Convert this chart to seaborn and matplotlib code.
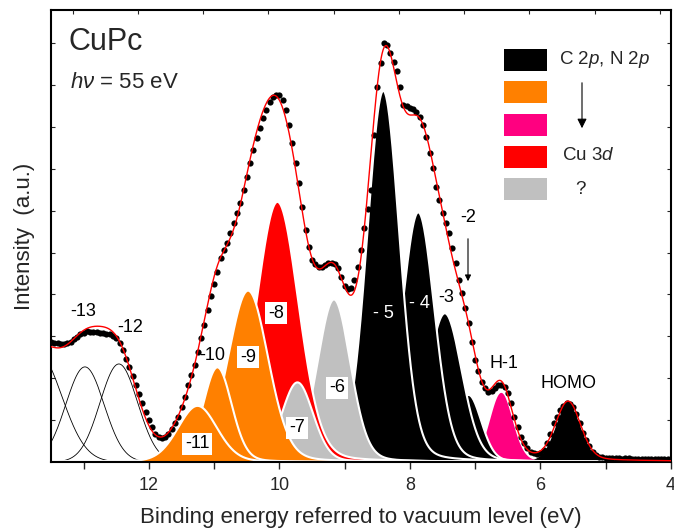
import numpy as np
import pandas as pd
import matplotlib
matplotlib.use("Agg")
import matplotlib.pyplot as plt
import seaborn as sns
from matplotlib.patches import Rectangle

sns.set_theme(style="ticks")
plt.rcParams['font.family'] = ['Liberation Sans', 'DejaVu Sans']
plt.rcParams['mathtext.fontset'] = 'custom'
plt.rcParams['mathtext.rm'] = 'Liberation Sans'
plt.rcParams['mathtext.it'] = 'Liberation Sans:italic'

energy_start, energy_stop = 13.5, 4.0
intensity = [2.87, 2.85, 2.83, 2.82, 2.82, 2.83, 2.87, 2.93, 2.99, 3.05,
             3.09, 3.13, 3.11, 3.11, 3.10, 3.09, 3.07, 3.05, 3.05, 3.01,
             2.95, 2.85, 2.67, 2.47, 2.27, 2.05, 1.84, 1.62, 1.40, 1.20,
             1.00, 0.83, 0.68, 0.60, 0.57, 0.60, 0.68, 0.78, 0.92, 1.08,
             1.32, 1.56, 1.84, 2.08, 2.32, 2.63, 2.95, 3.27, 3.63, 3.95,
             4.26, 4.54, 4.86, 5.06, 5.22, 5.46, 5.70, 5.94, 6.17, 6.49,
             6.81, 7.13, 7.45, 7.73, 7.96, 8.20, 8.40, 8.60, 8.72, 8.76,
             8.77, 8.64, 8.40, 8.04, 7.61, 7.13, 6.65, 6.09, 5.54, 5.14,
             4.82, 4.72, 4.66, 4.66, 4.70, 4.74, 4.75, 4.72, 4.62, 4.42,
             4.20, 4.12, 4.15, 4.35, 4.66, 5.06, 5.58, 6.05, 6.49, 7.80,
             8.95, 9.52, 9.99, 9.95, 9.75, 9.55, 9.32, 8.96, 8.52, 8.50,
             8.44, 8.42, 8.36, 8.24, 8.04, 7.76, 7.37, 7.01, 6.57, 6.25,
             5.94, 5.70, 5.46, 5.10, 4.74, 4.34, 4.03, 3.67, 3.31, 2.87,
             2.43, 2.16, 1.92, 1.76, 1.68, 1.70, 1.76, 1.84, 1.84, 1.78,
             1.64, 1.40, 1.08, 0.84, 0.60, 0.45, 0.33, 0.25, 0.21, 0.19,
             0.21, 0.29, 0.45, 0.68, 0.92, 1.08, 1.24, 1.34, 1.40, 1.38,
             1.32, 1.15, 0.92, 0.70, 0.53, 0.37, 0.25, 0.17, 0.13, 0.11,
             0.10, 0.10, 0.09, 0.10, 0.09, 0.08, 0.09, 0.09, 0.08, 0.07,
             0.08, 0.08, 0.08, 0.07, 0.07, 0.08, 0.07, 0.06, 0.06, 0.07,
             0.06]
energy = np.linspace(energy_start, energy_stop, len(intensity))

# ---------------- fitted components (pseudo-Voigt; thin outlined ones pure Gaussian) ----------------
comp_label  = ["HOMO", "H-1", "-2", "-3", "-4", "-5", "-6", "-8", "-7", "-9", "-10", "-11", "-12", "-13", "-14"]
comp_center = [5.576, 6.60, 7.10, 7.465, 7.872, 8.408, 9.164, 10.03, 9.724, 10.48, 10.95, 11.255, 12.46, 12.98, 13.70]
comp_height = [1.38, 1.65, 1.60, 3.55, 5.96, 8.86, 3.88, 6.21, 1.90, 4.09, 2.26, 1.34, 2.34, 2.27, 2.60]
comp_fwhm   = [0.45, 0.41, 0.46, 0.62, 0.59, 0.59, 0.60, 0.77, 0.57, 0.73, 0.52, 0.71, 0.68, 0.69, 0.86]
comp_eta    = [0.147] * 12 + [0.0] * 3
comp_group  = ["C", "mix2", "C", "C", "C", "C", "unk", "Cu", "unk", "mix1", "mix1", "mix1", "none", "none", "none"]

group_color = {"C": "#000000", "mix1": "#FF8000", "mix2": "#FF0080",
               "Cu": "#FF0000", "unk": "#C0C0C0", "none": None}
white_edge = {"C": True, "mix1": True, "mix2": False, "Cu": True, "unk": True, "none": False}

legend_groups = ["C", "mix1", "mix2", "Cu", "unk"]
legend_text = ["C 2$\\it{p}$, N 2$\\it{p}$", "", "", "Cu 3$\\it{d}$", "?"]


def pvoigt(x, c, h, w, eta):
    t = ((x - c) / w) ** 2
    return h * ((1 - eta) * np.exp(-4 * np.log(2) * t) + eta / (1 + 4 * t))


fig = plt.figure(figsize=(6.74, 5.31), dpi=100)
ax = fig.add_axes([51 / 674, 69 / 531, 620 / 674, 452 / 531])

grid = np.linspace(3.9, 13.6, 2000)
total = np.zeros_like(grid)
for i in range(len(comp_label)):
    y = pvoigt(grid, comp_center[i], comp_height[i], comp_fwhm[i], comp_eta[i])
    total += y
    g = comp_group[i]
    col = group_color[g]
    if col is None:
        ax.plot(grid, y, color="black", lw=0.6, zorder=2)
    else:
        ax.fill_between(grid, 0, y, facecolor=col, edgecolor="none", lw=0, zorder=2 + i * 0.01)
        if white_edge[g] and i != 0:
            ax.plot(grid, y, color="white", lw=1.5, zorder=2 + i * 0.01 + 0.005)

df = pd.DataFrame({"energy": energy, "intensity": intensity})
fit = pd.DataFrame({"energy": grid, "fit": total})
sns.scatterplot(data=df, x="energy", y="intensity", ax=ax, color="black", s=20,
                edgecolor="black", linewidth=0, zorder=5)
sns.lineplot(data=fit, x="energy", y="fit", ax=ax, color="red", lw=1.0, zorder=6)

ax.set_xlim(13.5, 4.0)
ax.set_ylim(0, 452 / 41.9)
ax.set_xlabel("Binding energy referred to vacuum level (eV)", fontsize=16, labelpad=9)
ax.set_ylabel("Intensity  (a.u.)", fontsize=16, labelpad=8)
ax.set_xticks([12, 10, 8, 6, 4])
ax.set_xticks([13, 11, 9, 7, 5], minor=True)
ax.set_yticks(np.arange(1, 11))
ax.set_yticklabels([])
ax.tick_params(axis="x", which="both", direction="out", length=5, width=1, labelsize=13, pad=6)
ax.tick_params(axis="y", which="both", direction="in", length=3, width=0.8, right=True)
for sp in ax.spines.values():
    sp.set_linewidth(1.5)
    sp.set_color("black")
    sp.set_visible(True)

top = ax.twiny()
top.set_xlim(13.5 - 0.17, 4.0 - 0.17)
top.set_xticks(np.arange(13, 3.9, -1))
top.set_xticklabels([])
top.tick_params(axis="x", direction="in", length=3, width=0.8)
for sp in top.spines.values():
    sp.set_visible(False)


def px(xp, yp):
    return (xp - 51) / 620, (462 - yp) / 452


ax.text(*px(69, 42), "CuPc", transform=ax.transAxes, fontsize=22, va="center")
ax.text(*px(70, 83), "$\\it{h}\\nu$ = 55 eV", transform=ax.transAxes, fontsize=16, va="center")

box = dict(boxstyle="square,pad=0.15", fc="white", ec="none")
labels_pos = [("-13", 83, 312, "black", None), ("-12", 130, 328, "black", None),
              ("-10", 212, 356, "black", None), ("-11", 197, 444, "black", box),
              ("-9", 248, 357, "black", box), ("-8", 276, 313, "black", box),
              ("-7", 297, 428, "black", box), ("-6", 337, 388, "black", box),
              ("- 5", 383, 313, "white", None), ("- 4", 419, 303, "white", None),
              ("-3", 446, 297, "black", None), ("-2", 468, 218, "black", None),
              ("H-1", 504, 363, "black", None), ("HOMO", 568, 384, "black", None)]
for t, xp, yp, c, b in labels_pos:
    xa, ya = px(xp, yp)
    ax.text(xa, ya, t, transform=ax.transAxes, fontsize=13, color=c, ha="center", va="center",
            bbox=b, zorder=8)

ax.annotate("", xy=px(468, 284), xytext=px(468, 236), xycoords="axes fraction",
            arrowprops=dict(arrowstyle="-|>", color="black", lw=0.8, mutation_scale=9), zorder=8)

for k, g in enumerate(legend_groups):
    yp = 60 + k * 32.3
    x0, y0 = px(504, yp + 11)
    ax.add_patch(Rectangle((x0, y0), 43 / 620, 22 / 452, transform=ax.transAxes,
                           facecolor=group_color[g], edgecolor="none", zorder=9))
legend_text_pos = [(559, 60, "left"), (0, 0, None), (0, 0, None), (562, 155, "left"), (575, 190, "left")]
for (xp, yp, ha), t in zip(legend_text_pos, legend_text):
    if t:
        ax.text(*px(xp, yp), t, transform=ax.transAxes, fontsize=13.5, ha=ha, va="center", zorder=9)
ax.annotate("", xy=px(582, 131), xytext=px(582, 80), xycoords="axes fraction",
            arrowprops=dict(arrowstyle="-|>", color="black", lw=0.8, mutation_scale=14), zorder=9)

fig.savefig("out.png", dpi=100)
